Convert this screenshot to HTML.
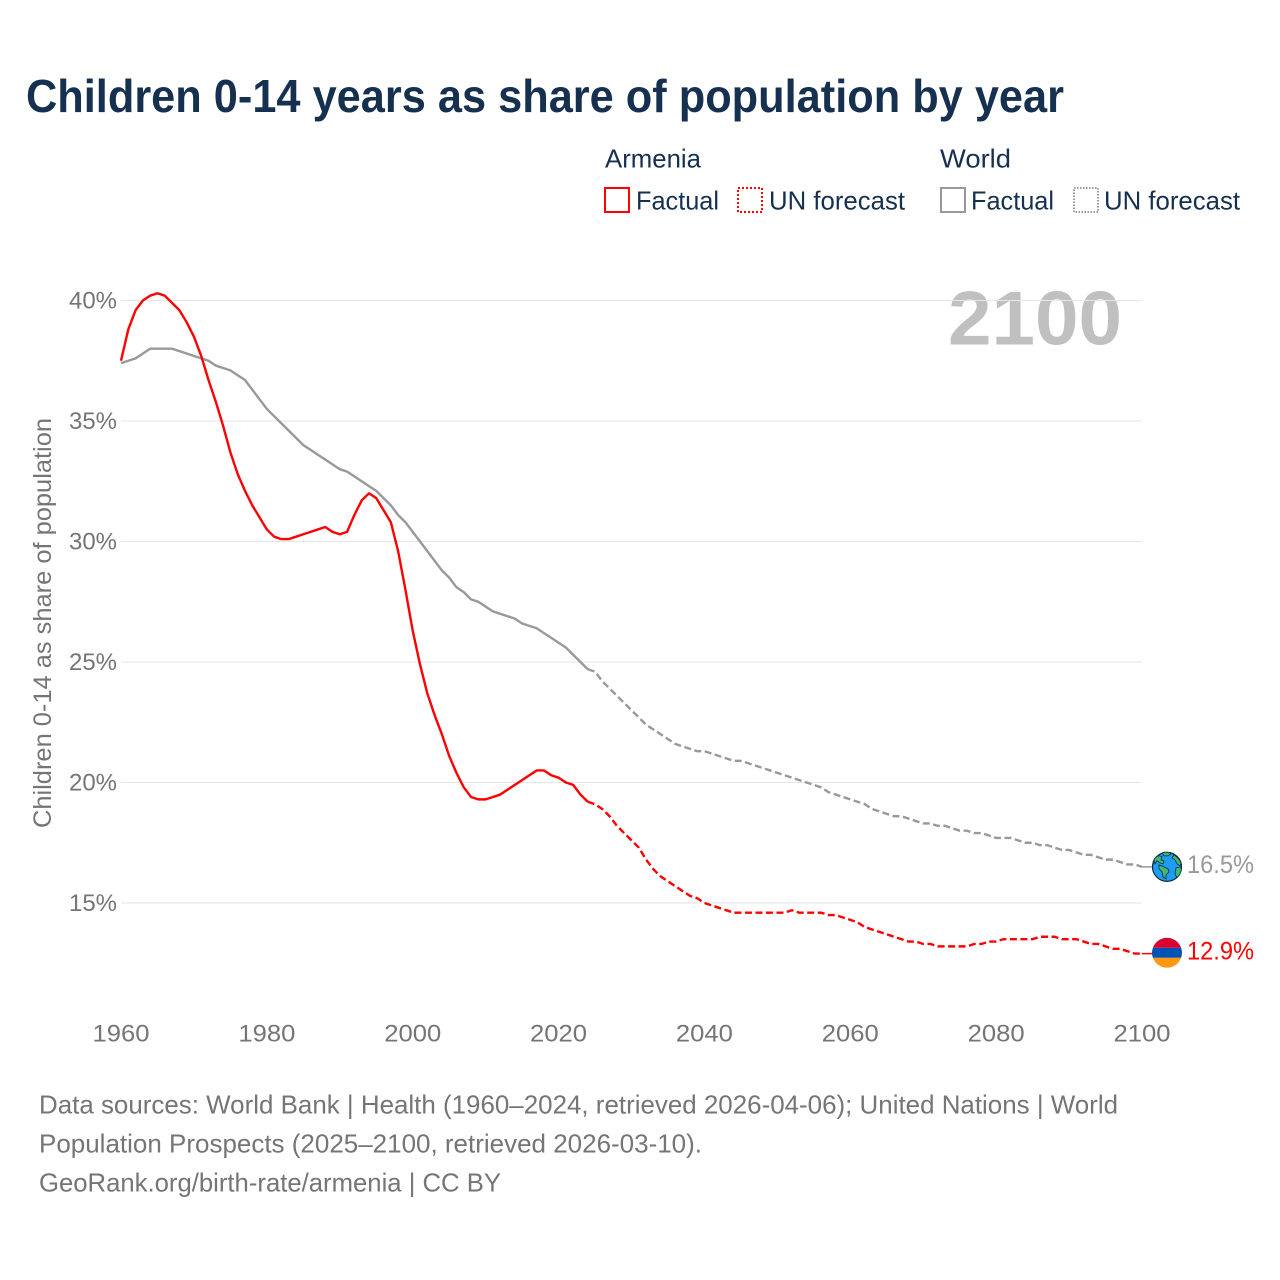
<!DOCTYPE html>
<html lang="en">
<head>
<meta charset="utf-8">
<title>Children 0-14 years as share of population by year</title>
<style>
html,body{margin:0;padding:0;background:#fff;}
svg{display:block;font-family:"Liberation Sans",sans-serif;}
</style>
</head>
<body>
<svg id="chart" xmlns="http://www.w3.org/2000/svg" width="1280" height="1280" viewBox="0 0 1280 1280">
  <rect x="0" y="0" width="1280" height="1280" fill="#ffffff"/>
  <text x="26" y="112" font-size="46" font-weight="700" fill="#16304f" textLength="1038" lengthAdjust="spacingAndGlyphs">Children 0-14 years as share of population by year</text>

  <g font-size="26" fill="#16304f">
    <text x="605" y="167.5" textLength="96" lengthAdjust="spacingAndGlyphs">Armenia</text>
    <text x="940" y="167.5" textLength="71" lengthAdjust="spacingAndGlyphs">World</text>
    <rect x="605" y="188" width="24" height="24" fill="none" stroke="#ff0000" stroke-width="2"/>
    <text x="636" y="209.5" textLength="83" lengthAdjust="spacingAndGlyphs">Factual</text>
    <rect x="738" y="188" width="24" height="24" fill="none" stroke="#ff0000" stroke-width="2" stroke-dasharray="2 2"/>
    <text x="769" y="209.5" textLength="136" lengthAdjust="spacingAndGlyphs">UN forecast</text>
    <rect x="941" y="188" width="24" height="24" fill="none" stroke="#999999" stroke-width="2"/>
    <text x="971" y="209.5" textLength="83" lengthAdjust="spacingAndGlyphs">Factual</text>
    <rect x="1074" y="188" width="24" height="24" fill="none" stroke="#999999" stroke-width="2" stroke-dasharray="1.5 1.5"/>
    <text x="1104" y="209.5" textLength="136" lengthAdjust="spacingAndGlyphs">UN forecast</text>
  </g>

  <text transform="translate(51,623) rotate(-90)" text-anchor="middle" font-size="25" fill="#757575" textLength="410" lengthAdjust="spacingAndGlyphs">Children 0-14 as share of population</text>
  <text x="948" y="344.5" font-size="76" font-weight="700" fill="#c0c0c0" textLength="174" lengthAdjust="spacingAndGlyphs">2100</text>
  <g id="grid"></g>
  <g id="yticks"></g>
  <g id="xticks"></g>
  <g id="series"></g>
  <g id="markers"></g>

  <g font-size="26" fill="#757575">
    <text x="39" y="1113.5" textLength="1079" lengthAdjust="spacingAndGlyphs">Data sources: World Bank | Health (1960–2024, retrieved 2026-04-06); United Nations | World</text>
    <text x="39" y="1152.5" textLength="663" lengthAdjust="spacingAndGlyphs">Population Prospects (2025–2100, retrieved 2026-03-10).</text>
    <text x="39" y="1191.5" textLength="462" lengthAdjust="spacingAndGlyphs">GeoRank.org/birth-rate/armenia | CC BY</text>
  </g>
</svg>
<script>
const xTickYears = [1960, 1980, 2000, 2020, 2040, 2060, 2080, 2100];
const yTickValues = [15, 20, 25, 30, 35, 40];
const factualYears = [1960,1961,1962,1963,1964,1965,1966,1967,1968,1969,1970,1971,1972,1973,1974,1975,1976,1977,1978,1979,1980,1981,1982,1983,1984,1985,1986,1987,1988,1989,1990,1991,1992,1993,1994,1995,1996,1997,1998,1999,2000,2001,2002,2003,2004,2005,2006,2007,2008,2009,2010,2011,2012,2013,2014,2015,2016,2017,2018,2019,2020,2021,2022,2023,2024];
const forecastYears = [2024,2025,2026,2027,2028,2029,2030,2031,2032,2033,2034,2035,2036,2037,2038,2039,2040,2041,2042,2043,2044,2045,2046,2047,2048,2049,2050,2051,2052,2053,2054,2055,2056,2057,2058,2059,2060,2061,2062,2063,2064,2065,2066,2067,2068,2069,2070,2071,2072,2073,2074,2075,2076,2077,2078,2079,2080,2081,2082,2083,2084,2085,2086,2087,2088,2089,2090,2091,2092,2093,2094,2095,2096,2097,2098,2099,2100];
const armeniaFactual = [37.5,38.8,39.6,40.0,40.2,40.3,40.2,39.9,39.6,39.1,38.5,37.7,36.7,35.8,34.8,33.7,32.8,32.1,31.5,31.0,30.5,30.2,30.1,30.1,30.2,30.3,30.4,30.5,30.6,30.4,30.3,30.4,31.1,31.7,32.0,31.8,31.3,30.8,29.6,28.0,26.3,24.9,23.7,22.8,22.0,21.1,20.4,19.8,19.4,19.3,19.3,19.4,19.5,19.7,19.9,20.1,20.3,20.5,20.5,20.3,20.2,20.0,19.9,19.5,19.2];
const armeniaForecast = [19.2,19.1,18.9,18.6,18.2,17.9,17.6,17.3,16.8,16.4,16.1,15.9,15.7,15.5,15.3,15.2,15.0,14.9,14.8,14.7,14.6,14.6,14.6,14.6,14.6,14.6,14.6,14.6,14.7,14.6,14.6,14.6,14.6,14.5,14.5,14.4,14.3,14.2,14.0,13.9,13.8,13.7,13.6,13.5,13.4,13.4,13.3,13.3,13.2,13.2,13.2,13.2,13.2,13.3,13.3,13.4,13.4,13.5,13.5,13.5,13.5,13.5,13.6,13.6,13.6,13.5,13.5,13.5,13.4,13.3,13.3,13.2,13.1,13.1,13.0,12.9,12.9];
const worldFactual = [37.4,37.5,37.6,37.8,38.0,38.0,38.0,38.0,37.9,37.8,37.7,37.6,37.5,37.3,37.2,37.1,36.9,36.7,36.3,35.9,35.5,35.2,34.9,34.6,34.3,34.0,33.8,33.6,33.4,33.2,33.0,32.9,32.7,32.5,32.3,32.1,31.8,31.5,31.1,30.8,30.4,30.0,29.6,29.2,28.8,28.5,28.1,27.9,27.6,27.5,27.3,27.1,27.0,26.9,26.8,26.6,26.5,26.4,26.2,26.0,25.8,25.6,25.3,25.0,24.7];
const worldForecast = [24.7,24.6,24.2,23.9,23.6,23.3,23.0,22.7,22.4,22.2,22.0,21.8,21.6,21.5,21.4,21.3,21.3,21.2,21.1,21.0,20.9,20.9,20.8,20.7,20.6,20.5,20.4,20.3,20.2,20.1,20.0,19.9,19.8,19.6,19.5,19.4,19.3,19.2,19.1,18.9,18.8,18.7,18.6,18.6,18.5,18.4,18.3,18.3,18.2,18.2,18.1,18.0,18.0,17.9,17.9,17.8,17.7,17.7,17.7,17.6,17.5,17.5,17.4,17.4,17.3,17.2,17.2,17.1,17.0,17.0,16.9,16.8,16.8,16.7,16.6,16.6,16.5];

const SVGNS = 'http://www.w3.org/2000/svg';
const xScale = function (year) { return 121 + (year - 1960) * (1142 - 121) / 140; };
const yScale = function (value) { return 300.5 + (40 - value) * (903 - 300.5) / 25; };

function make(tag, attrs, parent) {
  const el = document.createElementNS(SVGNS, tag);
  Object.keys(attrs).forEach(function (k) { el.setAttribute(k, attrs[k]); });
  parent.appendChild(el);
  return el;
}
function linePath(years, values) {
  return years.map(function (y, i) {
    return (i ? 'L' : 'M') + xScale(y).toFixed(2) + ',' + yScale(values[i]).toFixed(2);
  }).join(' ');
}

const gridGroup = document.getElementById('grid');
const yTickGroup = document.getElementById('yticks');
yTickValues.forEach(function (v) {
  const line = make('line', { x1: 121, x2: 1141.5, y1: yScale(v), y2: yScale(v), stroke: '#e6e6e6', 'stroke-width': 1 }, gridGroup);
  
  
  const label = make('text', { x: 69, y: yScale(v) + 7.8, 'font-size': 24.5, fill: '#757575', textLength: 48, lengthAdjust: 'spacingAndGlyphs' }, yTickGroup);
  label.textContent = v + '%';
  
  
});

const xTickGroup = document.getElementById('xticks');
xTickYears.forEach(function (year) {
  const label = make('text', { x: xScale(year) - 28.5, y: 1041.5, 'font-size': 24.5, fill: '#757575', textLength: 57, lengthAdjust: 'spacingAndGlyphs' }, xTickGroup);
  label.textContent = String(year);
  
  
});

const seriesGroup = document.getElementById('series');
const worldFactualLine = make('path', { d: linePath(factualYears, worldFactual), fill: 'none', stroke: '#999999', 'stroke-width': 2.4, 'stroke-linejoin': 'round' }, seriesGroup);


const worldForecastLine = make('path', { d: linePath(forecastYears, worldForecast), fill: 'none', stroke: '#999999', 'stroke-width': 2.4, 'stroke-dasharray': '7 3.5' }, seriesGroup);


const armeniaFactualLine = make('path', { d: linePath(factualYears, armeniaFactual), fill: 'none', stroke: '#ff0000', 'stroke-width': 2.4, 'stroke-linejoin': 'round' }, seriesGroup);


const armeniaForecastLine = make('path', { d: linePath(forecastYears, armeniaForecast), fill: 'none', stroke: '#ff0000', 'stroke-width': 2.4, 'stroke-dasharray': '7 3.5' }, seriesGroup);



const markerGroup = document.getElementById('markers');
const worldEnd = worldForecast[worldForecast.length - 1];
const armeniaEnd = armeniaForecast[armeniaForecast.length - 1];
const endX = xScale(2100);
const markerX = endX + 25;

const worldConnector = make('line', { x1: endX, x2: markerX, y1: yScale(worldEnd), y2: yScale(worldEnd), stroke: '#999999', 'stroke-width': 1.5 }, markerGroup);


const armeniaConnector = make('line', { x1: endX, x2: markerX, y1: yScale(armeniaEnd), y2: yScale(armeniaEnd), stroke: '#ff0000', 'stroke-width': 1.5 }, markerGroup);



const globe = make('g', { transform: 'translate(' + markerX + ',' + yScale(worldEnd) + ')' }, markerGroup);


make('circle', { cx: 0, cy: 0, r: 14.5, fill: '#1e9bf5', stroke: '#0d2a3a', 'stroke-width': 1.2 }, globe);
[
  'M-5,-14 C-2,-15 3,-15 4,-13 L1,-11 L-3,-11 Z',
  'M-13,-7 C-11,-11 -8,-12 -5,-10 L-6,-7 L-3,-6 L-4,-3 L-7,-4 L-10,-6 L-12,-3 Z',
  'M-8,-2 L-3,0 L1,2 L2,5 L-1,8 L-1,12 L-4,10 L-5,5 L-8,2 Z',
  'M7,-12 C10,-10 14,-6 14,-3 L13,-1 L10,-3 L8,-7 L5,-9 Z',
  'M9,1 L14,0 C15,4 13,8 10,11 L8,7 Z'
].forEach(function (d) {
  make('path', { d: d, fill: '#3cb878', stroke: '#0d2a3a', 'stroke-width': 0.8 }, globe);
});

const clipDefs = make('clipPath', { id: 'flag-clip' }, markerGroup);
make('circle', { cx: 0, cy: 0, r: 15 }, clipDefs);
const flag = make('g', { transform: 'translate(' + markerX + ',' + (yScale(armeniaEnd) - 0.8) + ')', 'clip-path': 'url(#flag-clip)' }, markerGroup);


make('rect', { x: -15, y: -15, width: 30, height: 10, fill: '#d90030' }, flag);
make('rect', { x: -15, y: -5, width: 30, height: 10, fill: '#0052b4' }, flag);
make('rect', { x: -15, y: 5, width: 30, height: 10, fill: '#ff9811' }, flag);

const worldLabel = make('text', { x: 1187, y: yScale(worldEnd) + 6, 'font-size': 25, fill: '#999999', textLength: 67, lengthAdjust: 'spacingAndGlyphs' }, markerGroup);
worldLabel.textContent = worldEnd.toFixed(1) + '%';


const armeniaLabel = make('text', { x: 1187, y: yScale(armeniaEnd) + 6, 'font-size': 25, fill: '#ff0000', textLength: 67, lengthAdjust: 'spacingAndGlyphs' }, markerGroup);
armeniaLabel.textContent = armeniaEnd.toFixed(1) + '%';


</script>
</body>
</html>
